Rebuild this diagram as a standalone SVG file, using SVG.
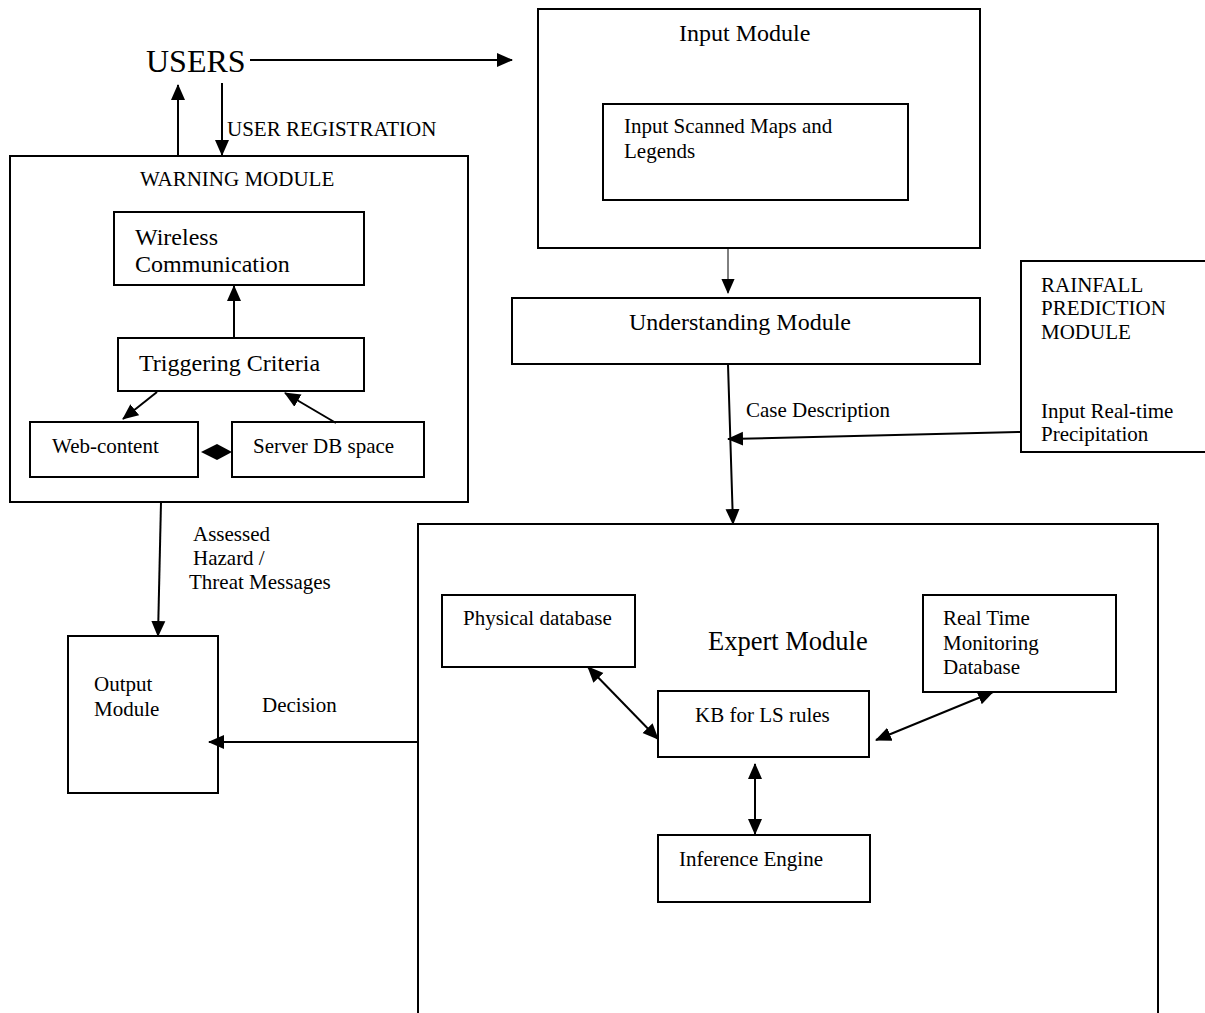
<svg xmlns="http://www.w3.org/2000/svg" width="1205" height="1013" viewBox="0 0 1205 1013">
<style>
rect.box{fill:none;stroke:#000;stroke-width:2}
text{font-family:"Liberation Serif","Times New Roman",serif;fill:#000;font-size:21px}
.big{font-size:24px}
.con line,.con path{stroke:#000;stroke-width:2;fill:none}
</style>
<defs>
<marker id="arr" viewBox="0 0 16 16" refX="15" refY="8" markerWidth="16" markerHeight="16" markerUnits="userSpaceOnUse" orient="auto-start-reverse">
<path d="M0,1 L16,8 L0,15 z" fill="#000"/>
</marker>
<marker id="arrs" viewBox="0 0 16 16" refX="15" refY="8" markerWidth="15" markerHeight="15" markerUnits="userSpaceOnUse" orient="auto-start-reverse">
<path d="M0,1 L16,8 L0,15 z" fill="#000"/>
</marker>
</defs>
<rect width="1205" height="1013" fill="#fff"/>

<g id="users"><text x="146" y="72" style="font-size:32px">USERS</text></g>

<g id="warning">
<rect class="box" x="10" y="156" width="458" height="346"/>
<text x="140" y="186">WARNING MODULE</text>
</g>
<g id="wireless">
<rect class="box" x="114" y="212" width="250" height="73"/>
<text x="135" y="245" class="big">Wireless</text>
<text x="135" y="272" class="big">Communication</text>
</g>
<g id="triggering">
<rect class="box" x="118" y="338" width="246" height="53"/>
<text x="139" y="371" class="big">Triggering Criteria</text>
</g>
<g id="webcontent">
<rect class="box" x="30" y="422" width="168" height="55"/>
<text x="52" y="453">Web-content</text>
</g>
<g id="serverdb">
<rect class="box" x="232" y="422" width="192" height="55"/>
<text x="253" y="453">Server DB space</text>
</g>
<g id="output">
<rect class="box" x="68" y="636" width="150" height="157"/>
<text x="94" y="691">Output</text>
<text x="94" y="716">Module</text>
</g>
<g id="input">
<rect class="box" x="538" y="9" width="442" height="239"/>
<text x="679" y="41" class="big">Input Module</text>
</g>
<g id="scanned">
<rect class="box" x="603" y="104" width="305" height="96"/>
<text x="624" y="133">Input Scanned Maps and</text>
<text x="624" y="158">Legends</text>
</g>
<g id="understanding">
<rect class="box" x="512" y="298" width="468" height="66"/>
<text x="629" y="330" class="big">Understanding Module</text>
</g>
<g id="rainfall">
<rect class="box" x="1021" y="261" width="190" height="191"/>
<text x="1041" y="292">RAINFALL</text>
<text x="1041" y="315">PREDICTION</text>
<text x="1041" y="339">MODULE</text>
<text x="1041" y="418">Input Real-time</text>
<text x="1041" y="441">Precipitation</text>
</g>
<g id="expert">
<rect class="box" x="418" y="524" width="740" height="510"/>
<text x="708" y="650" style="font-size:26.5px">Expert Module</text>
</g>
<g id="physical">
<rect class="box" x="442" y="595" width="193" height="72"/>
<text x="463" y="625">Physical database</text>
</g>
<g id="realtime">
<rect class="box" x="923" y="595" width="193" height="97"/>
<text x="943" y="625">Real Time</text>
<text x="943" y="650">Monitoring</text>
<text x="943" y="674">Database</text>
</g>
<g id="kb">
<rect class="box" x="658" y="691" width="211" height="66"/>
<text x="695" y="722">KB for LS rules</text>
</g>
<g id="inference">
<rect class="box" x="658" y="835" width="212" height="67"/>
<text x="679" y="866">Inference Engine</text>
</g>

<g id="connectors" class="con">
<line x1="250" y1="60" x2="512" y2="60" marker-end="url(#arr)"/>
<line x1="178" y1="156" x2="178" y2="85" marker-end="url(#arr)"/>
<line x1="222" y1="83" x2="222" y2="155" marker-end="url(#arr)"/>
<text x="227" y="136">USER REGISTRATION</text>
<line x1="234" y1="338" x2="234" y2="286" marker-end="url(#arr)"/>
<line x1="157" y1="392" x2="123" y2="419" marker-end="url(#arr)"/>
<line x1="336" y1="423" x2="285" y2="393" marker-end="url(#arr)"/>
<polygon points="201,452 217,444 232,452 217,460" fill="#000"/>
<line x1="161" y1="502" x2="158" y2="636" marker-end="url(#arr)"/>
<text x="193" y="541">Assessed</text>
<text x="193" y="565">Hazard /</text>
<text x="189" y="589">Threat Messages</text>
<line x1="728" y1="248" x2="728" y2="293" style="stroke-width:1" marker-end="url(#arrs)"/>
<line x1="728" y1="364" x2="733" y2="524" marker-end="url(#arr)"/>
<text x="746" y="417">Case Description</text>
<line x1="1021" y1="432" x2="728" y2="439" marker-end="url(#arr)"/>
<line x1="418" y1="742" x2="209" y2="742" marker-end="url(#arr)"/>
<text x="262" y="712">Decision</text>
<line x1="588" y1="667" x2="658" y2="739" marker-start="url(#arr)" marker-end="url(#arr)"/>
<line x1="876" y1="740" x2="993" y2="692" marker-start="url(#arr)" marker-end="url(#arr)"/>
<line x1="755" y1="764" x2="755" y2="834" marker-start="url(#arr)" marker-end="url(#arr)"/>
</g>
</svg>
